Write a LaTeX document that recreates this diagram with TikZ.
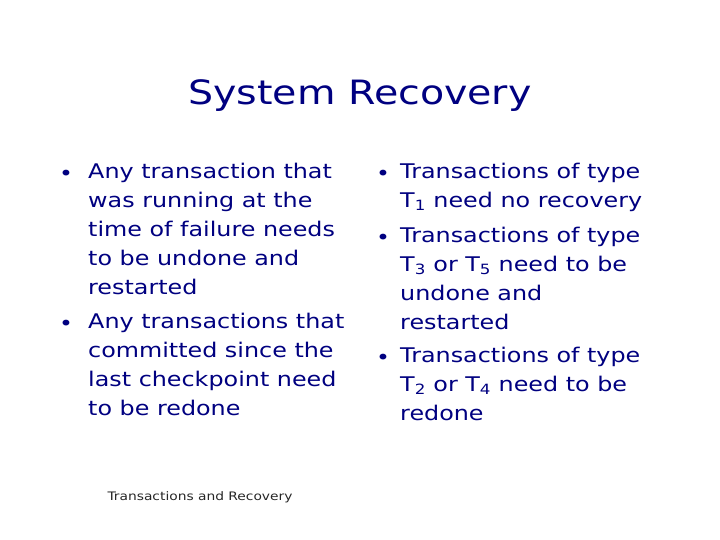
\documentclass[tikz,border=0pt]{standalone}
\usepackage{fontspec}
\setmainfont{DejaVu Sans}[FakeStretch=1.18]
\usepackage{xcolor}
\usetikzlibrary{positioning}
\definecolor{slideblue}{RGB}{0,0,128}

\begin{document}
\begin{tikzpicture}[x=1pt, y=-1pt,
    item/.style={anchor=north west, inner sep=0pt, align=left, text=slideblue,
      font=\fontsize{20.2}{29}\selectfont},
    dot/.style={inner sep=0pt, text=slideblue,
      font=\fontsize{20}{20}\selectfont}]
    \useasboundingbox (0,0) rectangle (720,540);

    \node[text=slideblue, font=\fontsize{33.5}{38}\selectfont] (title) at (360,96) {System Recovery};

    % left column
    \node[dot] (ldotA) at (66,175) {•};
    \node[item] (litemA) at (88,163) {Any transaction that\\was running at the\\time of failure needs\\to be undone and\\restarted};
    \node[dot] (ldotB) at (66,325) {•};
    \node[item] (litemB) at (88,313) {Any transactions that\\committed since the\\last checkpoint need\\to be redone};

    % right column
    \node[dot] (rdotA) at (383,175) {•};
    \node[item] (ritemA) at (400,163) {Transactions of type\\T\textsubscript{1} need no recovery};
    \node[dot] (rdotB) at (383,239) {•};
    \node[item] (ritemB) at (400,227) {Transactions of type\\T\textsubscript{3} or T\textsubscript{5} need to be\\undone and\\restarted};
    \node[dot] (rdotC) at (383,359) {•};
    \node[item] (ritemC) at (400,347) {Transactions of type\\T\textsubscript{2} or T\textsubscript{4} need to be\\redone};

    \node[text=black!85, font=\fontsize{11.7}{14}\selectfont] (footer) at (200,497) {Transactions and Recovery};
\end{tikzpicture}
\end{document}
